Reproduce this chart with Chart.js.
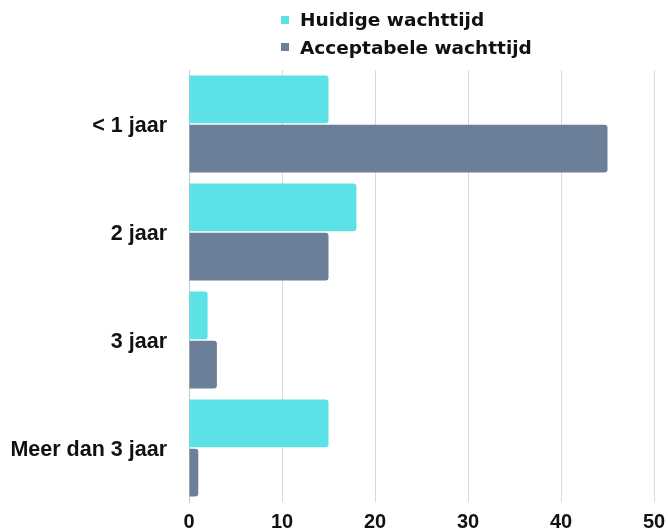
<!DOCTYPE html>
<html>
<head>
<meta charset="utf-8">
<script src="https://cdn.jsdelivr.net/npm/chart.js@4"></script>
<style>
    body { margin: 0; background: #fff; }
    #wrap { position: relative; width: 668px; height: 531px; overflow: hidden; }
    #legend { position: absolute; left: 281px; top: 6px; font: bold 18.5px "DejaVu Sans", sans-serif; color: #111; }
    .leg-row { display: flex; align-items: center; height: 27.5px; }
    .leg-box { width: 8px; height: 8px; margin-right: 11px; }
</style>
</head>
<body>
<div id="wrap">
    <canvas id="mainChart" width="668" height="531"></canvas>
    <div id="legend"></div>
</div>
<script>
const categories = ['< 1 jaar', '2 jaar', '3 jaar', 'Meer dan 3 jaar'];
const seriesNames = ['Huidige wachttijd', 'Acceptabele wachttijd'];
const huidige = [15, 18, 2, 15];
const acceptabel = [45, 15, 3, 1];
const xTicks = [0, 10, 20, 30, 40, 50];
const colors = ['#5ce1e6', '#6b7f99'];

const datasets = [huidige, acceptabel].map((vals, i) => ({
    label: seriesNames[i],
    data: vals,
    backgroundColor: colors[i],
    borderRadius: 3,
    borderSkipped: 'start',
    categoryPercentage: 0.91,
    barPercentage: 0.97
}));

const ctx = document.getElementById('mainChart').getContext('2d');
const chart = new Chart(ctx, {
    type: 'bar',
    data: { labels: categories, datasets: datasets },
    options: {
        indexAxis: 'y',
        responsive: false,
        animation: false,
        layout: { padding: { top: 70, right: 0, left: 0, bottom: 0 } },
        plugins: { legend: { display: false }, tooltip: { enabled: false } },
        scales: {
            x: {
                min: 0,
                max: 50,
                afterBuildTicks: s => { s.ticks = xTicks.map(v => ({ value: v })); },
                afterFit: s => { s.height = 29; s.paddingLeft = 0; s.paddingRight = 14; },
                grid: { color: '#d9d9d9', drawTicks: false },
                border: { display: false },
                ticks: { color: '#111', padding: 8, font: { family: '"Liberation Sans", sans-serif', size: 20, weight: 'bold' } }
            },
            y: {
                afterFit: s => { s.width = 189; s.paddingTop = 0; s.paddingBottom = 0; },
                grid: { display: false, drawTicks: false },
                border: { display: true, color: '#c8c8c8' },
                ticks: { color: '#111', padding: 22, labelOffset: 2, font: { family: '"Liberation Sans", sans-serif', size: 21.5, weight: 'bold' } }
            }
        }
    }
});

// legend, stacked and left aligned like the original
const legend = document.getElementById('legend');
legend.innerHTML = chart.data.datasets.map(d =>
    `<div class="leg-row"><span class="leg-box" style="background:${d.backgroundColor}"></span>${d.label}</div>`
).join('');
</script>
</body>
</html>
